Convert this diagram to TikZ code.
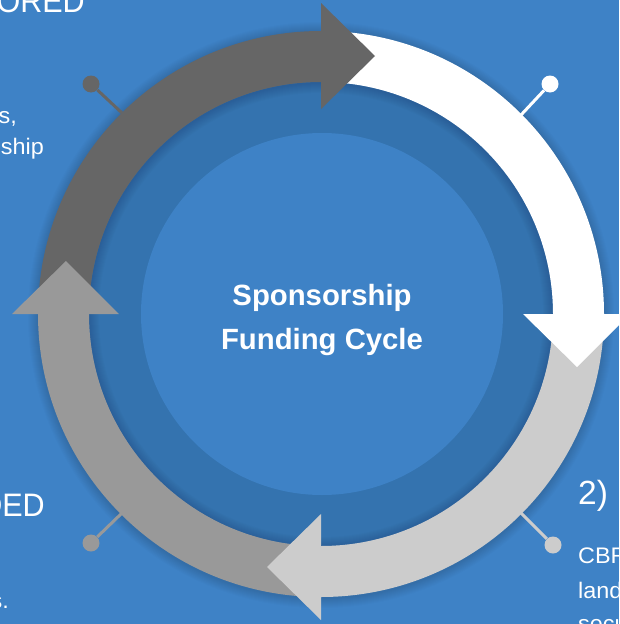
\documentclass[tikz,border=0pt]{standalone}
\usepackage{fontspec}
\setmainfont{Liberation Sans}
\newfontfamily\headfont{Liberation Sans}[FakeStretch=0.94]
\newfontfamily\bodyfont{Liberation Sans}[FakeStretch=1.04]
\definecolor{bg}{HTML}{3E82C6}
\definecolor{ringbg}{HTML}{3473AF}
\definecolor{cdark}{HTML}{666666}
\definecolor{cmid}{HTML}{999999}
\definecolor{clight}{HTML}{CCCCCC}
\tikzset{
  pin/.style={line width=3pt},
  dot/.style={circle,inner sep=0pt,minimum size=17pt},
  title/.style={font=\bfseries\fontsize{29.3}{44}\selectfont,text=white,align=center},
  head/.style={font=\headfont\fontsize{32.5}{38}\selectfont,text=white,inner sep=0pt},
  numhead/.style={font=\fontsize{33.5}{38}\selectfont,text=white,inner sep=0pt},
  body/.style={font=\bodyfont\fontsize{22.5}{28}\selectfont,text=white,inner sep=0pt}
}
\newcommand{\band}[3]{% colour, from, to
  \fill[#1] ({321+283*cos(#2)},{-314+283*sin(#2)}) arc[start angle=#2,end angle=#3,radius=283pt*1]
    -- ({321+232*cos(#3)},{-314+232*sin(#3)}) arc[start angle=#3,end angle=#2,radius=232pt*1] -- cycle;}
\begin{document}
\begin{tikzpicture}[x=1pt,y=1pt]
\useasboundingbox (0,-624) rectangle (619,0);
\clip (0,-624) rectangle (619,0);
\fill[bg] (0,-624) rectangle (619,0);
\fill[ringbg] (321,-314) circle[radius=232];
% soft shadow
\foreach \w in {2,4,...,20}{
  \draw[black,opacity=0.012,line width=51pt+\w pt] (321,-315) circle[radius=257.5];
}
\fill[bg] (322,-314) circle[radius=181];
% texts
\node[title,anchor=base] (t1) at (322,-305) {Sponsorship};
\node[title,anchor=base] (t2) at (322,-349) {Funding Cycle};
\node[head,anchor=base east] (h1) at (85,-12) {ORED};
\node[head,anchor=base east] (h3) at (45,-516) {DED};
\node[numhead,anchor=base west] (h2) at (578,-504) {2)};
\node[body,anchor=base east] (b1) at (17,-123) {s,};
\node[body,anchor=base east] (b2) at (44,-154) {ship};
\node[body,anchor=base east] (b3) at (9,-608) {s.};
\node[body,anchor=base west] (b4) at (578,-563) {CBR};
\node[body,anchor=base west] (b5) at (578,-598) {land};
\node[body,anchor=base west] (b6) at (578,-631) {secu};
% pins
\node[dot,fill=cdark] (d1) at (91,-84) {};
\coordinate (e1) at (122,-113);
\draw[pin,cdark] (d1) -- (e1);
\node[dot,fill=white] (d2) at (550,-84) {};
\coordinate (e2) at (521,-115);
\draw[pin,white] (d2) -- (e2);
\node[dot,fill=clight] (d3) at (553,-545) {};
\coordinate (e3) at (521,-513);
\draw[pin,clight] (d3) -- (e3);
\node[dot,fill=cmid] (d4) at (91,-543) {};
\coordinate (e4) at (122,-513);
\draw[pin,cmid] (d4) -- (e4);
% bands
\band{white}{90}{0}
\band{cdark}{180}{90}
\fill[cdark] (321,-3) -- (375,-56) -- (321,-109) -- cycle;
\band{cmid}{270}{180}
\fill[cmid] (12,-314) -- (66,-261) -- (119,-314) -- cycle;
\band{clight}{360}{270}
\fill[clight] (321,-514) -- (267,-567) -- (321,-620) -- cycle;
\fill[white] (523,-314) -- (577,-367) -- (630,-314) -- cycle;
\end{tikzpicture}
\end{document}
